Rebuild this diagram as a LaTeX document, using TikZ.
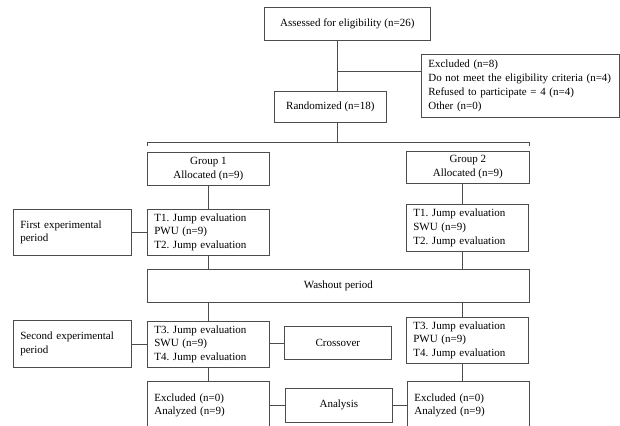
\documentclass[tikz,border=0pt]{standalone}
\usepackage{fontspec}
\setmainfont{Liberation Serif}
\frenchspacing
\usetikzlibrary{positioning,calc}

\tikzset{
  box/.style={draw=black!70, line width=0.7pt, anchor=north west, inner sep=0pt,
    align=center, font=\fontsize{11}{13.8}\selectfont},
  lbox/.style={box, align=left, inner xsep=7pt},
  link/.style={draw=black!70, line width=0.7pt}
}

\begin{document}
\begin{tikzpicture}[x=1pt, y=-1pt]
  \clip (0,0) rectangle (620,425);
  \useasboundingbox (0,0) rectangle (620,425);
  \fill[white] (0,0) rectangle (620,425);

  % enrolment
  \node[box, minimum width=166pt, minimum height=33pt] (assess) at (264,7) {Assessed for eligibility (n=26)};
  \node[lbox, text width=184pt, minimum height=63pt] (excl) at (421,54)
    {Excluded (n=8)\\Do not meet the eligibility criteria (n=4)\\Refused to participate = 4 (n=4)\\Other (n=0)};
  \node[box, minimum width=112pt, minimum height=31pt] (rand) at (274,91) {Randomized (n=18)};

  % allocation
  \node[box, minimum width=122pt, minimum height=33pt] (g1) at (147,152) {Group 1\\Allocated (n=9)};
  \node[box, minimum width=123pt, minimum height=32pt] (g2) at (406,151) {Group 2\\Allocated (n=9)};

  % first period
  \node[lbox, text width=104pt, minimum height=46pt] (first) at (13,209) {First experimental\\period};
  \node[lbox, text width=108pt, minimum height=46pt] (g1t) at (147,209) {T1. Jump evaluation\\PWU (n=9)\\T2. Jump evaluation};
  \node[lbox, text width=108pt, minimum height=47pt] (g2t) at (406,204) {T1. Jump evaluation\\SWU (n=9)\\T2. Jump evaluation};

  \node[box, minimum width=382pt, minimum height=33pt] (wash) at (147,269) {Washout period};

  % second period
  \node[lbox, text width=104pt, minimum height=47pt] (second) at (13,320) {Second experimental\\period};
  \node[lbox, text width=108pt, minimum height=46pt] (g1t3) at (147,321) {T3. Jump evaluation\\SWU (n=9)\\T4. Jump evaluation};
  \node[box, minimum width=107pt, minimum height=33pt] (cross) at (284,326) {Crossover};
  \node[lbox, text width=108pt, minimum height=46pt] (g2t3) at (406,317) {T3. Jump evaluation\\PWU (n=9)\\T4. Jump evaluation};

  % analysis
  \node[lbox, text width=108pt, minimum height=48pt] (g1res) at (147,381) {Excluded (n=0)\\Analyzed (n=9)};
  \node[box, minimum width=107pt, minimum height=34pt] (ana) at (285,388) {Analysis};
  \node[lbox, text width=108pt, minimum height=48pt] (g2res) at (407,381) {Excluded (n=0)\\Analyzed (n=9)};

  % connectors
  \coordinate (trunk) at (337,0);
  \coordinate (branch) at (trunk |- 0,71);
  \coordinate (split) at (trunk |- 0,142);
  \coordinate (right) at (462,0);
  \draw[link] (trunk |- assess.south) -- (trunk |- rand.north);
  \draw[link] (branch) -- (branch -| excl.west);
  \draw[link] (trunk |- rand.south) -- (split);
  \draw[link] ($(split -| g1.west)+(0,4)$) -- (split -| g1.west) -- (split -| g2.east) -- ($(split -| g2.east)+(0,4)$);

  \draw[link] (g1) -- (g1t);
  \draw[link] (right |- g2.south) -- (right |- g2t.north);
  \draw[link] (first.east |- g1t) -- (g1t.west);
  \draw[link] (g1t.south) -- (g1t.south |- wash.north);
  \draw[link] (right |- g2t.south) -- (right |- wash.north);

  \draw[link] (g1t3.north |- wash.south) -- (g1t3.north);
  \draw[link] (right |- wash.south) -- (right |- g2t3.north);
  \draw[link] (second.east) -- (second.east -| g1t3.west);
  \draw[link] (cross.west) -- (cross.west -| g1t3.east);
  \draw[link] ($(cross.east)+(0,8)$) -- ($(cross.east)+(0,8)$ -| g2t3.west);

  \draw[link] (g1t3) -- (g1res);
  \draw[link] (right |- g2t3.south) -- (right |- g2res.north);
  \draw[link] (ana.west) -- (ana.west -| g1res.east);
  \draw[link] (ana.east) -- (ana.east -| g2res.west);
\end{tikzpicture}
\end{document}
